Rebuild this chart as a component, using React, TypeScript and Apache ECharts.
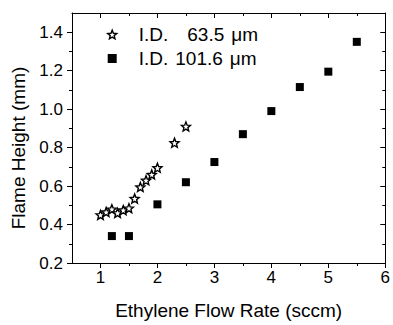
import React, { useEffect, useRef } from "react";
import * as echarts from "echarts";

const starX = [1.0, 1.1, 1.2, 1.3, 1.4, 1.5, 1.6, 1.7, 1.8, 1.9, 2.0, 2.3, 2.5];
const starY = [0.45, 0.465, 0.48, 0.46, 0.475, 0.485, 0.535, 0.595, 0.63, 0.66, 0.695, 0.825, 0.91];
const squareX = [1.2, 1.5, 2.0, 2.5, 3.0, 3.5, 4.0, 4.5, 5.0, 5.5];
const squareY = [0.34, 0.34, 0.505, 0.62, 0.725, 0.87, 0.99, 1.115, 1.195, 1.35];
const xMajor = [1, 2, 3, 4, 5, 6];
const xMinor = [1.5, 2.5, 3.5, 4.5, 5.5];
const yMajor = [0.2, 0.4, 0.6, 0.8, 1.0, 1.2, 1.4];
const yMinor = [0.3, 0.5, 0.7, 0.9, 1.1, 1.3];
const seriesNames = ["I.D. 63.5 μm", "I.D. 101.6 μm"];

const STAR =
  "path://M50 0 L62.93 32.2 L97.55 34.55 L70.92 56.8 L79.39 90.45 L50 72 L20.61 90.45 L29.08 56.8 L2.45 34.55 L37.07 32.2 Z";
const FONT = "Liberation Sans, Arial, sans-serif";

export default function App() {
  const ref = useRef<HTMLDivElement>(null);
  useEffect(() => {
    if (!ref.current) return;
    const chart = echarts.init(ref.current, undefined, { renderer: "svg" });
    const line = { show: true, lineStyle: { color: "#000", width: 1 } };
    const mkX = (pos: string, vals: number[], len: number, inside: boolean, labels: boolean, showLine: boolean) => ({
      type: "value",
      position: pos,
      min: 0.5,
      max: 6,
      axisLine: { ...line, show: showLine, onZero: false },
      splitLine: { show: false },
      axisTick: { show: true, inside, length: len, customValues: vals, lineStyle: { color: "#000", width: 1 } },
      axisLabel: labels
        ? { show: true, customValues: vals, margin: 6, fontSize: 17, color: "#000", fontFamily: FONT }
        : { show: false },
    });
    const mkY = (pos: string, vals: number[], len: number, inside: boolean, labels: boolean, showLine: boolean) => ({
      type: "value",
      position: pos,
      min: 0.2,
      max: 1.5,
      axisLine: { ...line, show: showLine, onZero: false },
      splitLine: { show: false },
      axisTick: { show: true, inside, length: len, customValues: vals, lineStyle: { color: "#000", width: 1 } },
      axisLabel: labels
        ? {
            show: true,
            customValues: vals,
            margin: 9,
            fontSize: 17,
            color: "#000",
            fontFamily: FONT,
            formatter: (v: number) => v.toFixed(1),
          }
        : { show: false },
    });
    const xa: any[] = [
      {
        ...mkX("bottom", xMajor, 5, false, true, true),
        name: "Ethylene Flow Rate (sccm)",
        nameLocation: "middle",
        nameGap: 38,
        nameTextStyle: { fontSize: 19, color: "#000", fontFamily: FONT },
      },
      mkX("bottom", xMinor, 3, false, false, false),
      mkX("top", xMajor, 5, true, false, true),
      mkX("top", xMinor, 3, true, false, false),
    ];
    const ya: any[] = [
      {
        ...mkY("left", yMajor, 5, false, true, true),
        name: "Flame Height (mm)",
        nameLocation: "middle",
        nameGap: 44,
        nameTextStyle: { fontSize: 19, color: "#000", fontFamily: FONT, padding: [0, 20, 0, 0] },
      },
      mkY("left", yMinor, 3, false, false, false),
      mkY("right", yMajor, 5, true, false, true),
      mkY("right", yMinor, 3, true, false, false),
    ];
    chart.setOption({
      animation: false,
      backgroundColor: "#fff",
      grid: { left: 72, right: 3, top: 13, bottom: 57 },
      xAxis: xa,
      yAxis: ya,
      legend: {
        orient: "vertical",
        left: 102,
        top: 20,
        itemWidth: 9,
        itemHeight: 9,
        itemGap: 5,
        data: [
          { name: seriesNames[0], icon: STAR, itemStyle: { color: "#fff", borderColor: "#000", borderWidth: 1.4 } },
          { name: seriesNames[1], icon: "rect" },
        ],
        formatter: (name: string) => {
          const parts = name.split(" ");
          const style = parts[1].length < 5 ? "s" : "b";
          return `{a|${parts[0]}}{${style}|${parts[1]}}{c|${parts[2]}}`;
        },
        textStyle: {
          fontSize: 19,
          color: "#000",
          fontFamily: FONT,
          rich: {
            a: { fontSize: 19, fontFamily: FONT, color: "#000", padding: [0, 7, 0, 17] },
            b: { fontSize: 19, fontFamily: FONT, color: "#000" },
            s: { fontSize: 19, fontFamily: FONT, color: "#000", padding: [0, 0, 0, 12] },
            c: { fontSize: 19, fontFamily: FONT, color: "#000", padding: [0, 0, 0, 7] },
          },
        },
      },
      series: [
        {
          name: seriesNames[0],
          type: "scatter",
          symbol: STAR,
          symbolSize: 9,
          itemStyle: { color: "#fff", borderColor: "#000", borderWidth: 1.4, opacity: 1 },
          data: starX.map((x, i) => [x, starY[i]]),
          z: 3,
        },
        {
          name: seriesNames[1],
          type: "scatter",
          symbol: "rect",
          symbolSize: 8,
          itemStyle: { color: "#000", opacity: 1 },
          data: squareX.map((x, i) => [x, squareY[i]]),
          z: 2,
        },
      ],
    });
    return () => chart.dispose();
  }, []);
  return <div ref={ref} style={{ width: 393, height: 325, position: "absolute", left: 0, top: 0 }} />;
}
